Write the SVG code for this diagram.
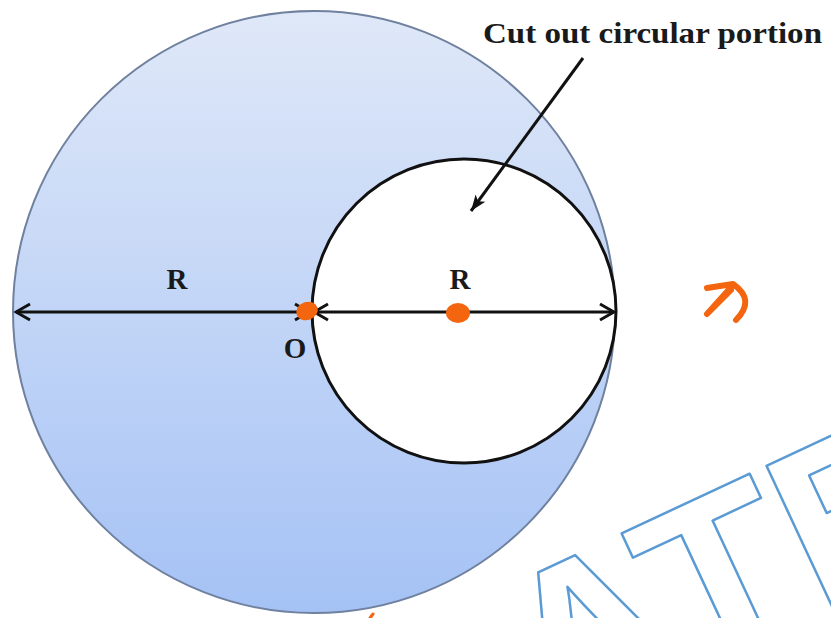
<svg xmlns="http://www.w3.org/2000/svg" width="831" height="618" viewBox="0 0 831 618">
<defs>
<linearGradient id="blue" x1="0" y1="0" x2="0" y2="1">
<stop offset="0" stop-color="#dfe8f8"/>
<stop offset="1" stop-color="#a5c2f5"/>
</linearGradient>
<marker id="chev" viewBox="0 0 20 20" refX="18" refY="10" markerWidth="20" markerHeight="20" markerUnits="userSpaceOnUse" orient="auto-start-reverse">
<path d="M4,2 L18,10 L4,18" fill="none" stroke="#111" stroke-width="3"/>
</marker>
<marker id="head" viewBox="0 0 20 20" refX="18" refY="10" markerWidth="20" markerHeight="20" markerUnits="userSpaceOnUse" orient="auto">
<path d="M2,4 L18,10 L2,16 L6,10 Z" fill="#111"/>
</marker>
<style>
.lbl{font-family:"Liberation Serif","Times New Roman",serif;font-weight:bold;fill:#1a1a1a}
.dim{stroke:#111;stroke-width:3;fill:none}
.dot{fill:#f4650f}
.wm{font-family:"Liberation Sans",Arial,sans-serif;font-weight:bold;fill:none;stroke:#5b9bd5;stroke-width:2.5;stroke-linejoin:round}
</style>
</defs>
<rect width="831" height="618" fill="#ffffff"/>
<text class="wm" font-size="240" transform="translate(548,750) rotate(-25)">ATE</text>
<g id="outer">
<circle cx="314" cy="312" r="301" fill="url(#blue)" stroke="#6f819e" stroke-width="2"/>
</g>
<g id="cutout">
<circle cx="464" cy="311" r="152" fill="#ffffff" stroke="#111" stroke-width="3"/>
</g>
<g id="connectors">
<line class="dim" x1="16" y1="312" x2="309" y2="312" marker-start="url(#chev)" marker-end="url(#chev)"/>
<line class="dim" x1="314" y1="312" x2="614" y2="312" marker-start="url(#chev)" marker-end="url(#chev)"/>
<line x1="583" y1="58" x2="471" y2="211" stroke="#111" stroke-width="3" marker-end="url(#head)"/>
</g>
<g id="labels">
<text class="lbl" x="483" y="43" font-size="29" textLength="339" lengthAdjust="spacingAndGlyphs">Cut out circular portion</text>
<text class="lbl" x="177" y="289" font-size="29" text-anchor="middle">R</text>
<text class="lbl" x="460" y="289" font-size="29" text-anchor="middle">R</text>
<text class="lbl" x="295" y="358" font-size="29" text-anchor="middle">O</text>
</g>
<g id="marks">
<ellipse class="dot" cx="307" cy="311" rx="11" ry="9" transform="rotate(-20 307 311)"/>
<ellipse class="dot" cx="458" cy="313" rx="12" ry="10"/>
<path d="M707,288 L733,284 Q756,300 736,320 M733,285 L707,314 L731,290" fill="none" stroke="#f4650f" stroke-width="6" stroke-linecap="round" stroke-linejoin="round"/>
<path d="M370,618 L373,614" stroke="#f4650f" stroke-width="3" stroke-linecap="round"/>
</g>
</svg>
